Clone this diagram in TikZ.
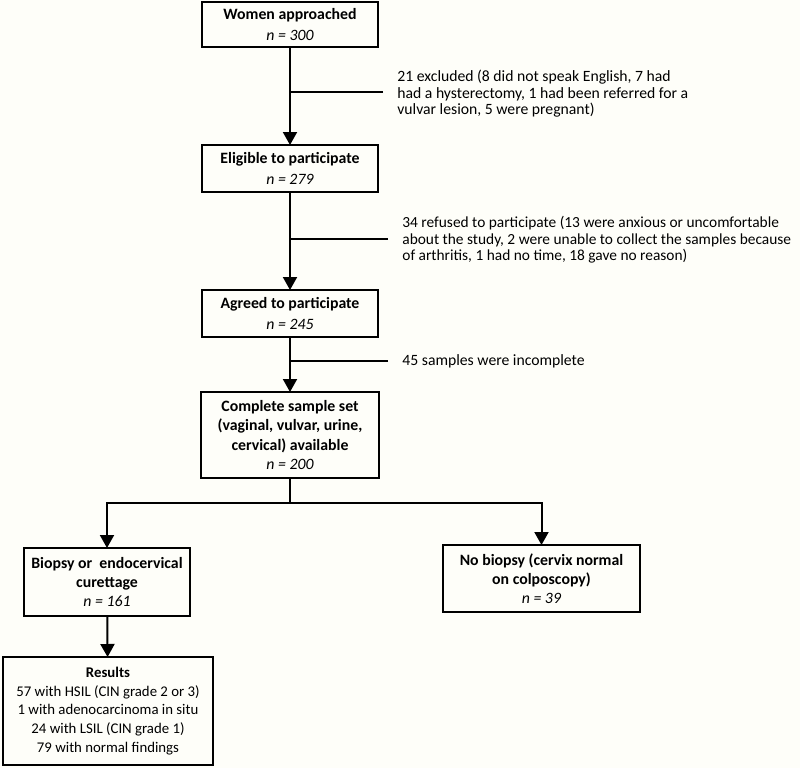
\documentclass[tikz,border=0pt]{standalone}
\usepackage{fontspec}
\setmainfont{Carlito}
\usepackage{xcolor}
\usetikzlibrary{arrows.meta,positioning,calc}
\definecolor{paper}{HTML}{FEFEF9}

\begin{document}
\begin{tikzpicture}[x=0.5pt,y=-0.5pt,
    font=\fontsize{7.9}{9.6}\selectfont,
    box/.style={draw,line width=1pt,align=center,inner sep=0pt,outer sep=0pt},
    arr/.style={line width=1pt,-{Triangle[length=6.5pt,width=7pt]}},
    side/.style={line width=1pt},
    note/.style={anchor=west,align=left,inner sep=0pt,
      font=\fontsize{7.85}{8.3}\selectfont}]
  \fill[paper] (0,0) rectangle (800,768);
  \useasboundingbox (0,0) rectangle (800,768);
  % main column
  \node[box,minimum width=88pt,minimum height=22.5pt] (women) at (290,24.5)
    {\textbf{Women approached}\\[0.5pt] \textit{n = 300}};
  \node[box,minimum width=88pt,minimum height=23.5pt] (elig) at (290,168.5)
    {\textbf{Eligible to participate}\\[0.5pt] \textit{n = 279}};
  \node[box,minimum width=88pt,minimum height=23.5pt] (agree) at (290,313.5)
    {\textbf{Agreed to participate}\\[0.5pt] \textit{n = 245}};
  \node[box,minimum width=89pt,minimum height=43pt] (compl) at (290,435)
    {\textbf{Complete sample set}\\ \textbf{(vaginal, vulvar, urine,}\\
     \textbf{cervical) available}\\ \textit{n = 200}};
  \node[box,minimum width=83pt,minimum height=34pt] (biop) at (107,582)
    {\textbf{Biopsy or\ \ endocervical}\\ \textbf{curettage}\\ \textit{n = 161}};
  \node[box,minimum width=98.5pt,minimum height=33.5pt] (nobiop) at (541.5,578.5)
    {\textbf{No biopsy (cervix normal}\\ \textbf{on colposcopy)}\\ \textit{n = 39}};
  \node[box,minimum width=105pt,minimum height=54pt,
        font=\fontsize{7.4}{9.3}\selectfont] (res) at (108,711)
    {\textbf{Results}\\ 57 with HSIL (CIN grade 2 or 3)\\
     1 with adenocarcinoma in situ\\ 24 with LSIL (CIN grade 1)\\
     79 with normal findings};
  % exclusions
  \coordinate (x1) at (383,92);
  \coordinate (x2) at (388,239);
  \coordinate (x3) at (388,361);
  \node[note] (t1) at (397,94)
    {21 excluded (8 did not speak English, 7 had\\
     had a hysterectomy, 1 had been referred for a\\
     vulvar lesion, 5 were pregnant)};
  \node[note,font=\fontsize{7.7}{8.3}\selectfont] (t2) at (402,240)
    {34 refused to participate (13 were anxious or uncomfortable\\
     about the study, 2 were unable to collect the samples because\\
     of arthritis, 1 had no time, 18 gave no reason)};
  \node[note] (t3) at (402,361) {45 samples were incomplete};
  % connectors
  \draw[arr] (women) -- (elig);
  \draw[arr] (elig) -- (agree);
  \draw[arr] (agree) -- (compl);
  \draw[side] (x1) -- (x1 -| women);
  \draw[side] (x2) -- (x2 -| elig);
  \draw[side] (x3) -- (x3 -| agree);
  \coordinate (split) at (290,503);
  \draw[side] (compl) -- (split);
  \draw[arr] (split) -| (biop.north);
  \draw[arr] (split) -| (nobiop.north);
  \draw[arr] (biop) -- (res);
\end{tikzpicture}
\end{document}
